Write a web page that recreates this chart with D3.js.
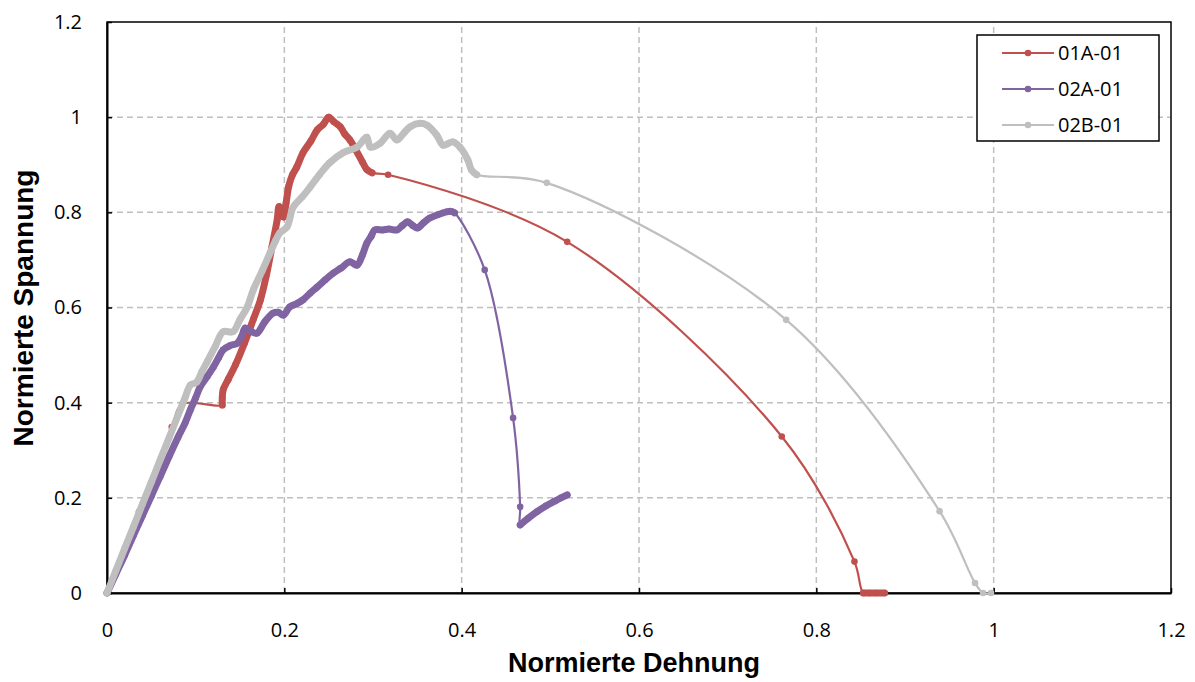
<!DOCTYPE html>
<html>
<head>
<meta charset="utf-8">
<script src="https://cdn.jsdelivr.net/npm/d3@7"></script>
<style>
  body { margin: 0; background: #fff; }
  svg { display: block; }
  .tick text { font-family: "Open Sans", sans-serif; font-size: 20px; fill: #000; }
</style>
</head>
<body>
<div id="chart"></div>
<script>
// series names + colours
const seriesNames = ["01A-01", "02A-01", "02B-01"];
const seriesColors = ["#C0504D", "#8064A2", "#BFBFBF"];

// 01A-01
const redX = [0, 0.036, 0.073, 0.085, 0.130,
  0.130, 0.131, 0.137, 0.145, 0.155, 0.165, 0.173, 0.180, 0.186, 0.192, 0.194, 0.197, 0.199, 0.202, 0.205, 0.209,
  0.214, 0.221, 0.230, 0.237, 0.244, 0.250, 0.256, 0.263, 0.268, 0.274, 0.281, 0.288, 0.293, 0.299,
  0.317, 0.519, 0.761, 0.843, 0.853, 0.860, 0.867, 0.877];
const redY = [0, 0.17, 0.349, 0.397, 0.395,
  0.41, 0.427, 0.45, 0.48, 0.525, 0.575, 0.616, 0.67, 0.727, 0.785, 0.812, 0.80, 0.79, 0.82, 0.855, 0.878,
  0.895, 0.925, 0.95, 0.973, 0.985, 1.0, 0.99, 0.98, 0.965, 0.952, 0.93, 0.906, 0.89, 0.883,
  0.879, 0.738, 0.329, 0.066, 0.0, 0.0, 0.0, 0.0];
const redDense = [[4, 34], [39, 42]];

// 02A-01
const purpleX = [0, 0.01, 0.02, 0.03, 0.04, 0.05, 0.06, 0.07, 0.08, 0.088, 0.094, 0.100, 0.105, 0.113, 0.120,
  0.126, 0.131, 0.139, 0.147, 0.152, 0.156, 0.162, 0.169, 0.178, 0.187, 0.193, 0.199, 0.206, 0.214, 0.221,
  0.229, 0.237, 0.246, 0.255, 0.264, 0.274, 0.282, 0.288, 0.293, 0.298, 0.302, 0.311, 0.318, 0.327, 0.333,
  0.339, 0.345, 0.350, 0.357, 0.364, 0.373, 0.383, 0.388, 0.392,
  0.426, 0.458, 0.466, 0.466, 0.475, 0.485, 0.495, 0.505, 0.512, 0.519];
const purpleY = [0, 0.04, 0.08, 0.122, 0.163, 0.204, 0.245, 0.287, 0.327, 0.357, 0.385, 0.41, 0.433, 0.455, 0.475,
  0.495, 0.511, 0.52, 0.525, 0.54, 0.557, 0.55, 0.546, 0.57, 0.588, 0.59, 0.584, 0.601, 0.608, 0.616,
  0.63, 0.643, 0.658, 0.672, 0.683, 0.696, 0.689, 0.71, 0.735, 0.75, 0.763, 0.763, 0.765, 0.763, 0.772,
  0.78, 0.772, 0.767, 0.778, 0.788, 0.795, 0.801, 0.802, 0.799,
  0.679, 0.368, 0.181, 0.143, 0.157, 0.171, 0.183, 0.193, 0.2, 0.206];
const purpleDense = [[0, 53], [57, 63]];

// 02B-01
const grayX = [0, 0.01, 0.02, 0.03, 0.04, 0.05, 0.06, 0.07, 0.08, 0.088, 0.094, 0.101, 0.107, 0.113, 0.122,
  0.131, 0.142, 0.150, 0.158, 0.165, 0.175, 0.184, 0.190, 0.195, 0.203, 0.210, 0.220, 0.229, 0.240, 0.251,
  0.266, 0.282, 0.293, 0.297, 0.308, 0.319, 0.327, 0.335, 0.342, 0.353, 0.361, 0.372, 0.379, 0.390, 0.398,
  0.407, 0.411, 0.417,
  0.496, 0.766, 0.939, 0.979, 0.988, 0.997];
const grayY = [0, 0.047, 0.094, 0.14, 0.187, 0.233, 0.28, 0.326, 0.373, 0.41, 0.437, 0.443, 0.465, 0.486, 0.518,
  0.549, 0.549, 0.575, 0.60, 0.637, 0.677, 0.715, 0.74, 0.757, 0.769, 0.811, 0.832, 0.853, 0.88, 0.904,
  0.925, 0.937, 0.958, 0.937, 0.945, 0.966, 0.952, 0.967, 0.98, 0.987, 0.983, 0.962, 0.941, 0.948, 0.937,
  0.910, 0.889, 0.879,
  0.862, 0.574, 0.172, 0.021, 0.0, 0.0];
const grayDense = [[0, 47]];

const allX = [redX, purpleX, grayX];
const allY = [redY, purpleY, grayY];
const allDense = [redDense, purpleDense, grayDense];

const xTicks = [0, 0.2, 0.4, 0.6, 0.8, 1, 1.2];
const yTicks = [0, 0.2, 0.4, 0.6, 0.8, 1, 1.2];

const width = 1195,
  height = 682,
  margin = { top: 22, bottom: 89, left: 107, right: 24 };

const svg = d3.select("#chart")
  .append("svg")
  .attr("width", width)
  .attr("height", height);

const x = d3.scaleLinear()
  .domain([0, 1.2])
  .range([margin.left, width - margin.right]);

const y = d3.scaleLinear()
  .domain([0, 1.2])
  .range([height - margin.bottom, margin.top]);

// dashed grid
svg.append("g")
  .selectAll("line")
  .data(xTicks.filter(d => d > 0 && d < 1.2))
  .join("line")
  .attr("x1", d => x(d)).attr("x2", d => x(d))
  .attr("y1", y(0)).attr("y2", y(1.2))
  .attr("stroke", "#BFBFBF").attr("stroke-width", 1.5)
  .attr("stroke-dasharray", "6,4");

svg.append("g")
  .selectAll("line")
  .data(yTicks.filter(d => d > 0 && d < 1.2))
  .join("line")
  .attr("x1", x(0)).attr("x2", x(1.2))
  .attr("y1", d => y(d)).attr("y2", d => y(d))
  .attr("stroke", "#BFBFBF").attr("stroke-width", 1.5)
  .attr("stroke-dasharray", "6,4");

// frame
svg.append("rect")
  .attr("x", x(0)).attr("y", y(1.2))
  .attr("width", x(1.2) - x(0)).attr("height", y(0) - y(1.2))
  .attr("fill", "none").attr("stroke", "#000").attr("stroke-width", 1.5);

// axes, ticks pointing inside
const xAxis = d3.axisBottom(x).tickValues(xTicks).tickFormat(d3.format("~g"))
  .tickSizeInner(-5).tickSizeOuter(0).tickPadding(30);
const yAxis = d3.axisLeft(y).tickValues(yTicks).tickFormat(d3.format("~g"))
  .tickSizeInner(-5).tickSizeOuter(0).tickPadding(25);

const xAxisGroup = svg.append("g")
  .attr("transform", `translate(0, ${y(0)})`)
  .call(xAxis);
xAxisGroup.select(".domain").attr("stroke-width", 2);
xAxisGroup.selectAll(".tick line").attr("stroke-width", 1.5);

const yAxisGroup = svg.append("g")
  .attr("transform", `translate(${x(0)}, 0)`)
  .call(yAxis);
yAxisGroup.select(".domain").attr("stroke-width", 2);
yAxisGroup.selectAll(".tick line").attr("stroke-width", 1.5);

svg.append("text")
  .attr("x", 634)
  .attr("y", 672)
  .attr("text-anchor", "middle")
  .attr("font-family", "Liberation Sans, Arial, sans-serif")
  .attr("font-weight", "bold")
  .attr("font-size", 27)
  .text("Normierte Dehnung");

svg.append("text")
  .attr("transform", `translate(33, 308)rotate(-90)`)
  .attr("text-anchor", "middle")
  .attr("font-family", "Liberation Sans, Arial, sans-serif")
  .attr("font-weight", "bold")
  .attr("font-size", 28)
  .text("Normierte Spannung");

// series
const line = d3.line()
  .x(d => x(d[0]))
  .y(d => y(d[1]))
  .curve(d3.curveCatmullRom.alpha(0.5));

seriesNames.forEach((name, i) => {
  const pts = allX[i].map((v, j) => [v, allY[i][j]]);
  const g = svg.append("g");

  g.append("path")
    .attr("d", line(pts))
    .attr("fill", "none")
    .attr("stroke", seriesColors[i])
    .attr("stroke-width", 2.2);

  // where the measured points are packed tight, the markers merge into a thick band
  allDense[i].forEach(r => {
    g.append("path")
      .attr("d", line(pts.slice(r[0], r[1] + 1)))
      .attr("fill", "none")
      .attr("stroke", seriesColors[i])
      .attr("stroke-width", 7)
      .attr("stroke-linejoin", "round")
      .attr("stroke-linecap", "round");
  });

  g.selectAll("circle")
    .data(pts)
    .join("circle")
    .attr("cx", d => x(d[0]))
    .attr("cy", d => y(d[1]))
    .attr("r", 3.3)
    .attr("fill", seriesColors[i]);
});

// legend
const legend = svg.append("g").attr("transform", "translate(977, 35)");
legend.append("rect")
  .attr("width", 182).attr("height", 106)
  .attr("fill", "#fff").attr("stroke", "#000").attr("stroke-width", 1.5);

const item = legend.selectAll(".item")
  .data(seriesNames)
  .join("g")
  .attr("class", "item")
  .attr("transform", (d, i) => `translate(0, ${18 + i * 36})`);

item.append("line")
  .attr("x1", 25).attr("x2", 77)
  .attr("stroke", (d, i) => seriesColors[i])
  .attr("stroke-width", 2.2);
item.append("circle")
  .attr("cx", 51).attr("r", 3.3)
  .attr("fill", (d, i) => seriesColors[i]);
item.append("text")
  .attr("x", 81).attr("dy", "0.36em")
  .attr("font-family", "Open Sans, sans-serif")
  .attr("font-size", 20)
  .text(d => d);
</script>
</body>
</html>
